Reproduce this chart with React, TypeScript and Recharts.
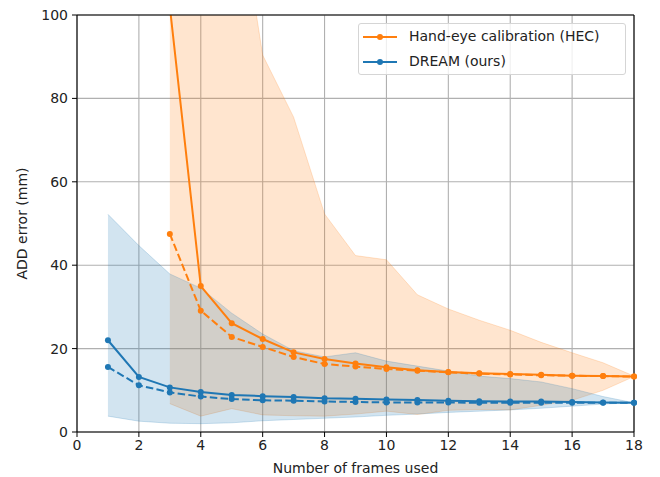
import React from "react";
import {
  ComposedChart,
  Line,
  Area,
  XAxis,
  YAxis,
  CartesianGrid,
  ReferenceLine,
} from "recharts";

const frames = [1, 2, 3, 4, 5, 6, 7, 8, 9, 10, 11, 12, 13, 14, 15, 16, 17, 18];

// DREAM (ours)
const dreamMean = [22.0, 13.2, 10.7, 9.6, 8.9, 8.6, 8.4, 8.1, 8.0, 7.8, 7.7, 7.5, 7.4, 7.3, 7.3, 7.2, 7.1, 7.0];
const dreamMedian = [15.6, 11.2, 9.5, 8.5, 7.9, 7.6, 7.5, 7.3, 7.2, 7.1, 7.1, 7.1, 7.0, 7.0, 7.0, 7.0, 7.0, 7.0];
const dreamUpper = [52.2, 44.7, 37.9, 34.5, 28.5, 23.5, 19.5, 18.0, 19.0, 17.0, 15.8, 14.6, 13.4, 12.8, 12.0, 10.4, 8.5, 7.0];
const dreamLower = [3.8, 2.6, 2.1, 2.0, 2.2, 2.7, 3.0, 3.3, 3.6, 4.0, 4.3, 4.7, 5.0, 5.3, 5.7, 6.2, 6.7, 7.0];

// Hand-eye calibration (HEC), only from 3 frames on
const hecMean = [null, null, 102, 35.0, 26.1, 22.3, 19.1, 17.5, 16.4, 15.5, 14.8, 14.4, 14.1, 13.9, 13.7, 13.5, 13.4, 13.3];
const hecMedian = [null, null, 47.5, 29.1, 22.8, 20.4, 18.0, 16.3, 15.7, 15.1, 14.7, 14.3, 14.0, 13.8, 13.6, 13.5, 13.4, 13.3];
const hecUpper = [null, null, 150, 145, 138, 90.4, 75.5, 52.3, 42.3, 41.3, 32.9, 29.5, 26.8, 24.4, 21.5, 19.0, 16.6, 13.4];
const hecLower = [null, null, 6.8, 3.8, 5.6, 4.1, 3.9, 3.8, 4.3, 5.0, 4.2, 5.2, 5.4, 5.3, 6.4, 7.6, 10.0, 13.3];

const xTicks = [0, 2, 4, 6, 8, 10, 12, 14, 16, 18];
const yTicks = [0, 20, 40, 60, 80, 100];

const ORANGE = "#ff7f0e";
const BLUE = "#1f77b4";

const data = frames.map((f, i) => ({
  frames: f,
  dreamMean: dreamMean[i],
  dreamMedian: dreamMedian[i],
  dreamBand: [dreamLower[i], dreamUpper[i]],
  hecMean: hecMean[i],
  hecMedian: hecMedian[i],
  hecBand: hecUpper[i] === null ? null : [hecLower[i], hecUpper[i]],
}));

const legendItems = [
  { label: "Hand-eye calibration (HEC)", color: ORANGE },
  { label: "DREAM (ours)", color: BLUE },
];

function LegendBox() {
  return (
    <div
      style={{
        position: "absolute",
        top: 23,
        left: 358,
        width: 268,
        height: 52,
        boxSizing: "border-box",
        border: "1px solid #d5d5d5",
        borderRadius: 3,
        background: "rgba(255,255,255,0.8)",
        padding: "0px 4px",
        fontSize: 14,
        color: "#222",
        lineHeight: "25px",
      }}
    >
      {legendItems.map((it) => (
        <div key={it.label} style={{ display: "flex", alignItems: "center" }}>
          <svg width={34} height={10} style={{ marginRight: 12 }}>
            <line x1={0} y1={5} x2={34} y2={5} stroke={it.color} strokeWidth={2} />
            <circle cx={17} cy={5} r={3} fill={it.color} />
          </svg>
          <span>{it.label}</span>
        </div>
      ))}
    </div>
  );
}

const tickStyle = { fill: "#222", fontSize: 14 };
const dotStyle = (c: string) => ({ r: 3, fill: c, stroke: c, strokeWidth: 0 });

export default function App() {
  return (
    <div
      style={{
        position: "absolute",
        left: 0,
        top: 0,
        width: 660,
        height: 477,
        background: "#fff",
        fontFamily: "'DejaVu Sans', sans-serif",
      }}
    >
      <ComposedChart
        width={660}
        height={477}
        data={data}
        margin={{ top: 15, right: 26, left: 0, bottom: 0 }}
      >
        <CartesianGrid stroke="#b0b0b0" strokeWidth={1.1} />
        <XAxis
          dataKey="frames"
          type="number"
          domain={[0, 18]}
          ticks={xTicks}
          height={45}
          tick={tickStyle}
          tickSize={5}
          tickMargin={3}
          stroke="#000"
          axisLine={{ stroke: "#000", strokeWidth: 1.1 }}
          label={{
            value: "Number of frames used",
            position: "insideBottom",
            offset: 4,
            style: { fill: "#222", fontSize: 14 },
          }}
        />
        <YAxis
          type="number"
          domain={[0, 100]}
          ticks={yTicks}
          allowDataOverflow
          width={77}
          tick={tickStyle}
          tickSize={5}
          tickMargin={4}
          stroke="#000"
          axisLine={{ stroke: "#000", strokeWidth: 1.1 }}
          label={{
            value: "ADD error (mm)",
            angle: -90,
            position: "insideLeft",
            offset: 22,
            style: { fill: "#222", fontSize: 14, textAnchor: "middle" },
          }}
        />
        <Area
          dataKey="hecBand"
          stroke={ORANGE}
          strokeOpacity={0.2}
          fill={ORANGE}
          fillOpacity={0.2}
          isAnimationActive={false}
          activeDot={false}
        />
        <Area
          dataKey="dreamBand"
          stroke={BLUE}
          strokeOpacity={0.2}
          fill={BLUE}
          fillOpacity={0.2}
          isAnimationActive={false}
          activeDot={false}
        />
        <Line
          dataKey="hecMean"
          stroke={ORANGE}
          strokeWidth={2}
          dot={dotStyle(ORANGE)}
          isAnimationActive={false}
        />
        <Line
          dataKey="hecMedian"
          stroke={ORANGE}
          strokeWidth={2}
          strokeDasharray="7.5 3.3"
          dot={dotStyle(ORANGE)}
          isAnimationActive={false}
        />
        <Line
          dataKey="dreamMean"
          stroke={BLUE}
          strokeWidth={2}
          dot={dotStyle(BLUE)}
          isAnimationActive={false}
        />
        <Line
          dataKey="dreamMedian"
          stroke={BLUE}
          strokeWidth={2}
          strokeDasharray="7.5 3.3"
          dot={dotStyle(BLUE)}
          isAnimationActive={false}
        />
        {/* top and right spines */}
        <ReferenceLine y={100} stroke="#000" strokeWidth={1.1} />
        <ReferenceLine x={18} stroke="#000" strokeWidth={1.1} />
      </ComposedChart>
      <LegendBox />
    </div>
  );
}
